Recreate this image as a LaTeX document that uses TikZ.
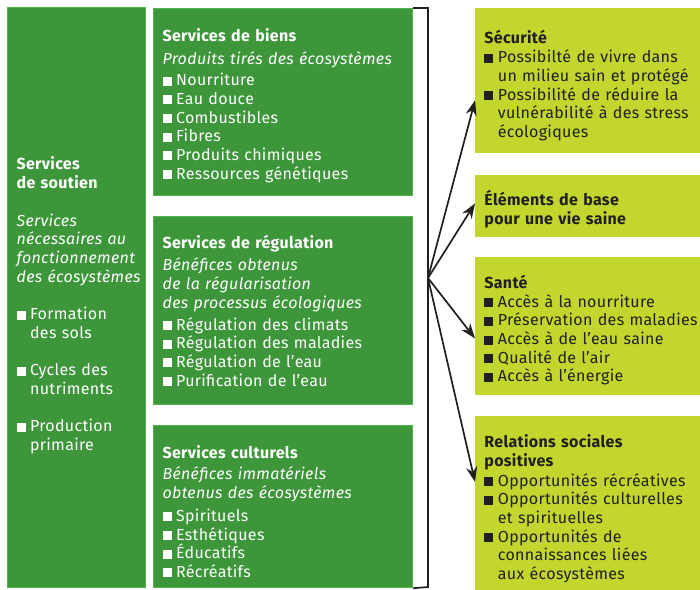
\documentclass[tikz,border=0pt]{standalone}
\usepackage{fontspec}
\setmainfont{Fira Sans}[LetterSpace=2]
\usetikzlibrary{arrows.meta}

\definecolor{darkgreen}{HTML}{3D963A}
\definecolor{edgegreen}{HTML}{4DB84A}
\definecolor{limegreen}{HTML}{C3D62E}
\definecolor{inkgray}{HTML}{231F20}

\newcommand{\sqbox}{\rule{9pt}{9pt}\hspace{4.5pt}}
\newcommand{\itm}[1]{\par\hangindent=13.5pt\hangafter=1\noindent\sqbox #1\par}
\newcommand{\gap}[1]{\par\vspace{#1}}

\begin{document}
\begin{tikzpicture}[x=1pt, y=-1pt, thick,
    svc/.style = {draw=edgegreen, line width=1.2pt, fill=darkgreen, text=white,
        anchor=north west, inner xsep=9pt, inner ysep=0pt, align=left,
        font=\fontsize{16}{18.7}\selectfont},
    ben/.style = {fill=limegreen, text=inkgray, anchor=north west,
        inner xsep=9pt, inner ysep=0pt, align=left, text width=222pt,
        font=\fontsize{16}{18.6}\selectfont},
    link/.style = {draw=inkgray, line width=1.7pt, -{Stealth[length=15pt, width=11pt]}}]
    \useasboundingbox (0,0) rectangle (700,589);

	\node [svc, minimum width=138pt, minimum height=580pt, text width=120pt] (soutien) at (7, 7)
        {\gap{10pt}\textbf{Services}\newline\textbf{de soutien}\gap{18.7pt}
         {\itshape Services\newline \mbox{nécessaires au}\newline \mbox{fonctionnement}\newline \mbox{des écosystèmes}}\gap{18.7pt}
         \itm{Formation\newline des sols}\gap{18.7pt}
         \itm{Cycles des\newline nutriments}\gap{18.7pt}
         \itm{Production\newline primaire}};
	\node [svc, minimum width=259pt, minimum height=187pt, text width=241pt] (biens) at (153, 8)
        {\gap{1pt}\textbf{Services de biens}\gap{5pt}
         {\itshape Produits tirés des écosystèmes}\gap{2pt}
         \itm{Nourriture}\itm{Eau douce}\itm{Combustibles}\itm{Fibres}
         \itm{Produits chimiques}\itm{Ressources génétiques}};
	\node [svc, minimum width=259pt, minimum height=188pt, text width=241pt] (regul) at (153, 216)
        {\textbf{Services de régulation}\gap{4pt}
         {\itshape Bénéfices obtenus\newline de la régularisation\newline des processus écologiques}\gap{3pt}
         \itm{Régulation des climats}\itm{Régulation des maladies}
         \itm{Régulation de l’eau}\itm{Purification de l’eau}};
	\node [svc, minimum width=259pt, minimum height=162pt, text width=241pt] (cult) at (153, 425)
        {\gap{4pt}\textbf{Services culturels}\gap{3pt}
         {\itshape Bénéfices immatériels\newline obtenus des écosystèmes}\gap{4pt}
         \itm{Spirituels}\itm{Esthétiques}\itm{Éducatifs}\itm{Récréatifs}};

	\node [ben, minimum width=230pt, minimum height=145pt] (secu) at (475, 8)
        {\gap{4pt}\textbf{Sécurité}\gap{0.5pt}
         \itm{Possibilté de vivre dans\newline un milieu sain et protégé}
         \itm{Possibilité de réduire la\newline vulnérabilité à des stress\newline écologiques}};
	\node [ben, minimum width=230pt, minimum height=62pt] (base) at (475, 175)
        {\gap{2pt}\textbf{Éléments de base}\newline\textbf{pour une vie saine}};
	\node [ben, minimum width=230pt, minimum height=138pt] (sante) at (475, 257)
        {\gap{2pt}\textbf{Santé}\gap{0.5pt}
         \itm{Accès à la nourriture}\itm{Préservation des maladies}
         \itm{Accès à de l’eau saine}\itm{Qualité de l’air}\itm{Accès à l’énergie}};
	\node [ben, minimum width=230pt, minimum height=175pt] (rel) at (475, 416)
        {\gap{4pt}\textbf{Relations sociales}\newline\textbf{positives}\gap{1.5pt}
         \itm{Opportunités récréatives}
         \itm{Opportunités culturelles\newline et spirituelles}
         \itm{Opportunités de\newline connaissances liées\newline aux écosystèmes}};

    \coordinate (top) at (428, 8);
    \coordinate (hub) at (428, 278);
    \coordinate (bot) at (428, 587);

    \draw[draw=inkgray, line width=1.7pt] (biens.north east) -- (top) -- (bot) -- (cult.south east);
    \draw[link] (hub) --  ([yshift=-19.5pt]secu.west);
    \draw[link] (hub) --  ([yshift=3pt]base.west);
    \draw[link] (hub) --  ([yshift=-12pt]sante.west);
    \draw[link] (hub) --  ([yshift=22pt]rel.west);

\end{tikzpicture}
\end{document}
